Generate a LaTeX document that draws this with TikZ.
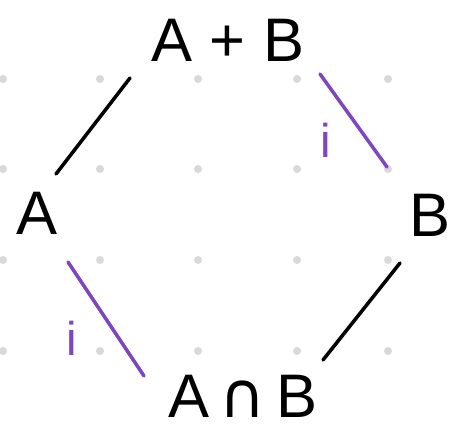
\documentclass[tikz,border=0pt]{standalone}
\usepackage{fontspec}
\setmainfont{Liberation Sans}
\newfontfamily\capfont{DejaVu Sans}
\usetikzlibrary{calc}
\definecolor{incl}{RGB}{126,71,193}
\definecolor{griddot}{RGB}{217,217,217}
\tikzset{
  lattice/.style={font=\fontsize{35}{40}\selectfont, inner sep=0pt},
  edge/.style={line width=2pt, line cap=round},
  incedge/.style={edge, draw=incl},
  inclabel/.style={text=incl, font=\fontsize{27}{30}\selectfont, inner sep=0pt}
}
\newcommand{\capsym}{{\capfont\fontsize{36}{40}\selectfont ∩}}

\begin{document}
\begin{tikzpicture}[x=0.02cm, y=-0.02cm]
            \useasboundingbox (0,0) rectangle (456,428);
            % dot grid
            \foreach \gx in {3,100,198,297,388}
                \foreach \gy in {79,169,260,351}
                    \fill[griddot] (\gx,\gy) circle (2.3pt);
            % lattice elements
            \node[lattice] (AB) at (228,40) {A + B};
            \node[lattice] (A) at (37,213) {A};
            \node[lattice] (B) at (430,215) {B};
            \node[lattice] (AnB) at (243,396) {A\,\capsym\,B};
            % edges of the diamond
            \draw[edge] ([shift={(19,-39)}]A.center) -- ([shift={(-98,38)}]AB.center);
            \draw[incedge] ([shift={(92,34)}]AB.center) -- ([shift={(-43,-48)}]B.center)
                node[inclabel, pos=0.71, left=0.7cm] {i};
            \draw[incedge] ([shift={(31,49)}]A.center) -- ([shift={(-99,-20)}]AnB.center)
                node[inclabel, pos=0.667, left=0.8cm] {i};
            \draw[edge] ([shift={(-30,48)}]B.center) -- ([shift={(80,-36)}]AnB.center);
        \end{tikzpicture}
\end{document}
